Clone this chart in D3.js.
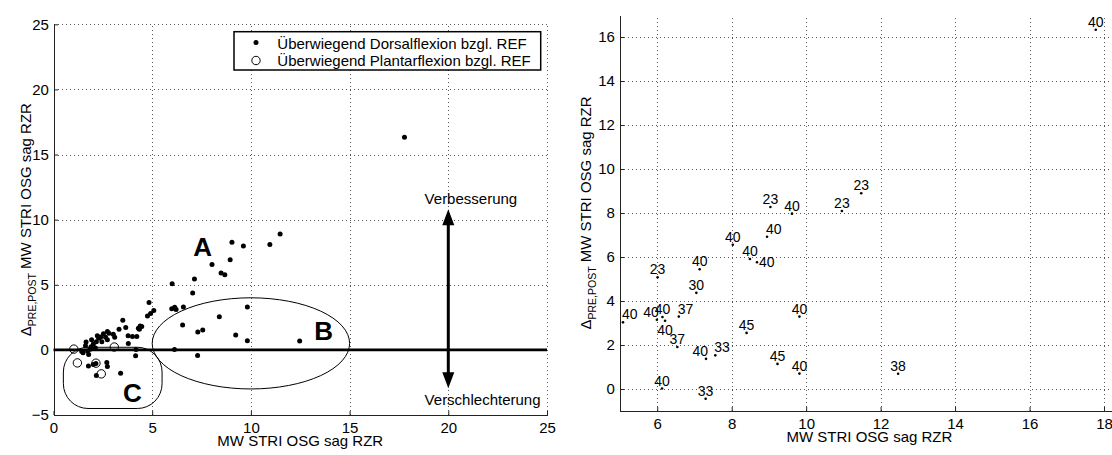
<!DOCTYPE html>
<html>
<head>
<meta charset="utf-8">
<script src="https://cdn.jsdelivr.net/npm/d3@7"></script>
<style>
  body { margin: 0; background: #fff; }
  text { font-family: "Liberation Sans", Arial, Helvetica, sans-serif; fill: #000; }
</style>
</head>
<body>
<svg id="chart" width="1112" height="455"></svg>
<script>
// ---- Data -------------------------------------------------------------
// Cases with predominant dorsal flexion (x < 5), unlabelled cluster
const dorsalLow = [
  [1.43,-0.12],[1.50,-0.22],[1.62,0.32],[1.65,0.60],[1.73,-0.08],[1.78,-0.36],
  [1.90,0.25],[1.93,0.78],[2.02,0.46],[2.12,0.15],[2.17,0.62],[2.22,1.08],
  [2.29,0.90],[2.39,0.98],[2.53,1.23],[2.64,0.97],[2.73,1.41],[2.81,1.28],
  [2.73,0.78],[3.03,1.20],[3.10,0.97],[3.32,1.59],[3.51,2.28],[3.66,1.72],
  [3.78,1.08],[3.79,0.49],[4.00,1.02],[4.22,1.02],[4.30,1.66],[4.35,1.58],
  [4.39,1.84],[4.47,1.79],[4.18,0.03],[4.16,-0.46],[4.76,2.61],[4.92,2.80],
  [4.84,3.64],[1.77,-1.23],[2.02,-1.13],[2.15,-1.05],[2.70,-0.97],[2.73,-1.28],
  [2.17,-1.97],[3.40,-1.79],[2.45,0.62],[1.85,0.05]
];

// Dorsal-flexion cases with x >= 5: [x, y, label, label placement]
const dorsalLabelled = [
  [5.08,3.03,"40","NE"],[5.99,3.15,"40","NW"],[6.14,3.27,"40","N"],
  [6.21,3.10,"40","S"],[6.58,3.29,"37","NE"],[6.54,1.91,"37","N"],
  [6.01,5.08,"23","N"],[7.14,5.44,"40","N"],[7.05,4.37,"30","N"],
  [6.13,0.02,"40","N"],[7.31,1.37,"40","NW"],[7.56,1.53,"33","NE"],
  [7.30,-0.44,"33","N"],[8.40,2.55,"45","N"],[9.23,1.14,"45","N"],
  [9.82,0.70,"40","N"],[9.82,3.29,"40","N"],[8.03,6.56,"40","N"],
  [8.49,5.91,"40","N"],[8.68,5.76,"40","E"],[8.95,6.92,"40","NE"],
  [9.04,8.27,"23","N"],[9.62,7.97,"40","N"],[10.96,8.09,"23","N"],
  [11.48,8.90,"23","N"],[12.47,0.69,"38","N"],[17.78,16.33,"40","N"]
];

// Cases with predominant plantar flexion
const plantarPoints = [[1.03,0.06],[1.21,-1.00],[3.08,0.22],[2.15,-1.02],[2.42,-1.84]];

// Axis ticks
const leftXTicks = [0, 5, 10, 15, 20, 25];
const leftYTicks = [-5, 0, 5, 10, 15, 20, 25];
const rightXTicks = [6, 8, 10, 12, 14, 16, 18];
const rightYTicks = [0, 2, 4, 6, 8, 10, 12, 14, 16];

// Texts
const axisTitle = "MW STRI OSG sag RZR";
const legendLabels = ["Überwiegend Dorsalflexion bzgl. REF", "Überwiegend Plantarflexion bzgl. REF"];
const groupLetters = [["A", 7.55, 7.22], ["B", 13.68, 0.77], ["C", 4.0, -3.97]];
const arrowTexts = [["Verbesserung", 18.8, 11.17], ["Verschlechterung", 18.8, -4.22]];
const arrowSpan = { x: 20, from: -2.95, to: 10.8 };
const regionB = { cx: 10, cy: 0.5, rx: 5, ry: 3.5 };
const regionC = { x0: 0.5, x1: 5.5, y0: -4.5, y1: 0.2, rx: 1.25, ry: 1.9 };

// ---- Drawing ----------------------------------------------------------
const svg = d3.select("#chart");
svg.append("rect").attr("width", 1112).attr("height", 455).attr("fill", "#fff");

const FONT = 15;
const px = v => Math.round(v) + 0.5;

function drawFrame(g, x, y, xTicks, yTicks, opts) {
  const [x0, x1] = x.range();
  const [y0, y1] = y.range();
  const grid = g.append("g").attr("stroke", "#555").attr("stroke-width", 1)
    .attr("stroke-dasharray", "1,3").attr("shape-rendering", "crispEdges");
  grid.selectAll(".vx").data(xTicks.filter(t => x(t) > x0 + 1))
    .join("line").attr("x1", d => px(x(d))).attr("x2", d => px(x(d)))
    .attr("y1", y0).attr("y2", y1);
  grid.selectAll(".hy").data(yTicks.filter(t => y(t) < y0 - 1))
    .join("line").attr("y1", d => px(y(d))).attr("y2", d => px(y(d)))
    .attr("x1", x0).attr("x2", x1);

  const xa = d3.axisBottom(x).tickValues(xTicks).tickSizeInner(-4).tickSizeOuter(0)
    .tickPadding(7.5).tickFormat(d3.format("d"));
  const ya = d3.axisLeft(y).tickValues(yTicks).tickSizeInner(-4).tickSizeOuter(0)
    .tickPadding(5.2).tickFormat(d3.format("d"));
  const gx = g.append("g").attr("transform", `translate(0,${px(y0) - 0.5})`).call(xa);
  const gy = g.append("g").attr("transform", `translate(${px(x0) - 0.5},0)`).call(ya);
  [gx, gy].forEach(a => {
    a.selectAll("text").attr("font-size", FONT).attr("font-family", null);
    a.select(".domain").attr("stroke", "#222").attr("shape-rendering", "crispEdges");
    a.selectAll(".tick line").attr("stroke", "#222");
    a.attr("font-family", null).attr("font-size", null);
  });

  // x title
  g.append("text").attr("x", (x0 + x1) / 2).attr("y", opts.xTitleY)
    .attr("text-anchor", "middle").attr("font-size", FONT).text(axisTitle);
  // y title with subscript
  const yt = g.append("text")
    .attr("transform", `translate(${opts.yTitleX},${(y0 + y1) / 2}) rotate(-90)`)
    .attr("text-anchor", "middle").attr("font-size", FONT);
  yt.append("tspan").text("\u0394");
  yt.append("tspan").attr("font-size", 10.5).attr("dy", 5).text("PRE,POST");
  yt.append("tspan").attr("dy", -5).text(" " + axisTitle);
}

// ---- Left panel: overview ---------------------------------------------
const xL = d3.scaleLinear().domain([0, 25]).range([53.5, 547]);
const yL = d3.scaleLinear().domain([-5, 25]).range([415, 24.3]);
const gL = svg.append("g");
drawFrame(gL, xL, yL, leftXTicks, leftYTicks, { xTitleY: 445.5, yTitleX: 30.7 });

// zero line
gL.append("line").attr("x1", xL(0)).attr("x2", xL(25)).attr("y1", yL(0)).attr("y2", yL(0))
  .attr("stroke", "#000").attr("stroke-width", 2.8);

// region B ellipse
gL.append("ellipse")
  .attr("cx", xL(regionB.cx)).attr("cy", yL(regionB.cy))
  .attr("rx", xL(regionB.cx + regionB.rx) - xL(regionB.cx))
  .attr("ry", yL(regionB.cy) - yL(regionB.cy + regionB.ry))
  .attr("fill", "none").attr("stroke", "#000").attr("stroke-width", 1);

// region C rounded box
gL.append("rect")
  .attr("x", xL(regionC.x0)).attr("y", yL(regionC.y1))
  .attr("width", xL(regionC.x1) - xL(regionC.x0))
  .attr("height", yL(regionC.y0) - yL(regionC.y1))
  .attr("rx", xL(regionC.rx) - xL(0)).attr("ry", yL(0) - yL(regionC.ry))
  .attr("fill", "none").attr("stroke", "#000").attr("stroke-width", 1);

// points
const dorsalAll = dorsalLow.concat(dorsalLabelled.map(d => [d[0], d[1]]));
gL.append("g").selectAll("circle").data(dorsalAll).join("circle")
  .attr("cx", d => xL(d[0])).attr("cy", d => yL(d[1])).attr("r", 2.5).attr("fill", "#000");
gL.append("g").selectAll("circle").data(plantarPoints).join("circle")
  .attr("cx", d => xL(d[0])).attr("cy", d => yL(d[1])).attr("r", 4.2)
  .attr("fill", "none").attr("stroke", "#000").attr("stroke-width", 1);

// group letters
gL.append("g").selectAll("text").data(groupLetters).join("text")
  .attr("x", d => xL(d[1])).attr("y", d => yL(d[2])).attr("text-anchor", "middle")
  .attr("font-size", 26).attr("font-weight", "bold").text(d => d[0]);

// improvement / deterioration arrow
const ax = xL(arrowSpan.x), aTop = yL(arrowSpan.to), aBot = yL(arrowSpan.from);
const head = 16, halfW = 6;
gL.append("line").attr("x1", ax).attr("x2", ax).attr("y1", aTop + head - 2).attr("y2", aBot - head + 2)
  .attr("stroke", "#000").attr("stroke-width", 3);
gL.append("path").attr("fill", "#000")
  .attr("d", `M${ax},${aTop}L${ax - halfW},${aTop + head}L${ax + halfW},${aTop + head}Z` +
             `M${ax},${aBot}L${ax - halfW},${aBot - head}L${ax + halfW},${aBot - head}Z`);
gL.append("g").selectAll("text").data(arrowTexts).join("text")
  .attr("x", d => xL(d[1])).attr("y", d => yL(d[2])).attr("font-size", FONT).text(d => d[0]);

// legend
const lg = gL.append("g");
lg.append("rect").attr("x", 234).attr("y", 31.7).attr("width", 306.7).attr("height", 38.3)
  .attr("fill", "#fff").attr("stroke", "#000").attr("stroke-width", 1.5);
lg.append("circle").attr("cx", 256).attr("cy", 42.5).attr("r", 2.5).attr("fill", "#000");
lg.append("circle").attr("cx", 256).attr("cy", 60.5).attr("r", 4.2)
  .attr("fill", "none").attr("stroke", "#000");
lg.selectAll("text").data(legendLabels).join("text")
  .attr("x", 277.3).attr("y", (d, i) => 48.5 + i * 17).attr("font-size", FONT).text(d => d);

// ---- Right panel: labelled cases ---------------------------------------
const xR = d3.scaleLinear().domain([5, 18.4]).range([620, 620 + 13.4 * 37.23]);
const yR = d3.scaleLinear().domain([-1, 17]).range([411, 15]);
const gR = svg.append("g");
drawFrame(gR, xR, yR, rightXTicks, rightYTicks, { xTitleY: 442, yTitleX: 590.7 });

gR.append("g").selectAll("circle").data(dorsalLabelled).join("circle")
  .attr("cx", d => xR(d[0])).attr("cy", d => yR(d[1])).attr("r", 1.3).attr("fill", "#000");

const place = {
  N:  { anchor: "middle", dx: 0,  dy: -3 },
  S:  { anchor: "middle", dx: 0,  dy: 14.5 },
  E:  { anchor: "start",  dx: 2,  dy: 5 },
  NE: { anchor: "start",  dx: -1, dy: -3 },
  NW: { anchor: "end",    dx: 2,  dy: -3 }
};
gR.append("g").selectAll("text").data(dorsalLabelled).join("text")
  .attr("x", d => xR(d[0]) + place[d[3]].dx)
  .attr("y", d => yR(d[1]) + place[d[3]].dy)
  .attr("text-anchor", d => place[d[3]].anchor)
  .attr("font-size", 14).text(d => d[2]);
</script>
</body>
</html>
